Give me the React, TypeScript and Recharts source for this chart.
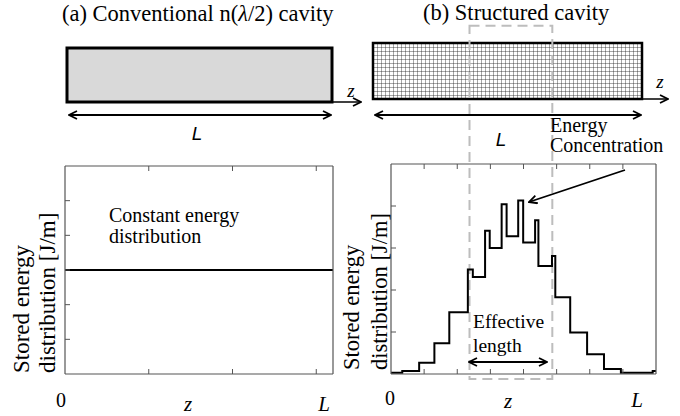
import React from 'react';
import { LineChart, Line, XAxis, YAxis, ReferenceArea } from 'recharts';

// ---- data ----
const uniformZ = [0, 3.2];
const uniformEnergy = [3, 3];
const uniformXTicks = [1, 2, 3];
const uniformYTicks = [1, 2, 3, 4, 5];

const structuredZ = [0, 0.34, 0.85, 1.31, 1.76, 2.32, 2.47, 2.84, 2.98, 3.34, 3.49, 3.84, 3.99, 4.35, 4.45, 4.86, 4.96, 5.41, 5.92, 6.43, 6.94, 7.9, 8];
const structuredEnergy = [0.03, 0.07, 0.27, 0.73, 1.47, 2.49, 2.31, 3.41, 3.0, 4.04, 3.28, 4.13, 3.13, 3.66, 2.57, 2.81, 1.83, 0.99, 0.47, 0.12, 0.03, 0.07, 0.07];
const structuredXTicks = [1, 2, 3, 4, 5, 6, 7];
const structuredYTicks = [1, 2, 3, 4];

const effectiveZ = [2.37, 4.87];
const effectiveBoxEnergy = [-0.12, 8.29];

const uniformData = uniformZ.map((z, i) => ({ z, e: uniformEnergy[i] }));
const structuredData = structuredZ.map((z, i) => ({ z, e: structuredEnergy[i] }));

const SERIF = "'Liberation Serif'";
const SANS = "'Liberation Sans'";
const FRAME = '#555';

const EmptyTick = () => <g />;

function axes(xDomain: number[], yDomain: number[], xTicks: number[], yTicks: number[]) {
  const common = {
    tick: EmptyTick,
    mirror: true,
    tickSize: 5,
    axisLine: { stroke: FRAME, strokeWidth: 1.2 },
    tickLine: { stroke: FRAME, strokeWidth: 1 },
  };
  return [
    <XAxis key="xb" xAxisId="b" dataKey="z" type="number" domain={xDomain} ticks={xTicks} height={1} {...common} />,
    <XAxis key="xt" xAxisId="t" orientation="top" dataKey="z" type="number" domain={xDomain} ticks={xTicks} height={1} {...common} />,
    <YAxis key="yl" yAxisId="l" type="number" domain={yDomain} ticks={yTicks} width={1} {...common} />,
    <YAxis key="yr" yAxisId="r" orientation="right" type="number" domain={yDomain} ticks={yTicks} width={1} {...common} />,
  ];
}

function Chev({ id }: { id: string }) {
  return (
    <marker id={id} viewBox="0 0 10 10" refX="9" refY="5" markerWidth="10" markerHeight="10" markerUnits="userSpaceOnUse" orient="auto-start-reverse">
      <path d="M1,1 L9,5 L1,9" fill="none" stroke="#000" strokeWidth="1.8" />
    </marker>
  );
}

const serif = { fontFamily: SERIF };
const sans = { fontFamily: SANS };

export default function App() {
  return (
    <div style={{ position: 'absolute', left: 0, top: 0, width: 680, height: 416, background: '#fff', overflow: 'hidden' }}>
      {/* schematic drawings */}
      <svg width={680} height={416} style={{ position: 'absolute', left: 0, top: 0 }}>
        <defs>
          <pattern id="grid" width="4" height="4" patternUnits="userSpaceOnUse" x="373" y="43">
            <rect width="4" height="4" fill="#fff" />
            <path d="M4,0 L0,0 L0,4" fill="none" stroke="#222" strokeWidth="0.8" />
          </pattern>
          <Chev id="chev" />
        </defs>
        <text x={62} y={21} style={serif} fontSize={22.5}>
          (a) Conventional n(<tspan fontStyle="italic">λ</tspan>/2) cavity
        </text>
        <text x={423} y={20} style={serif} fontSize={22.5}>
          (b) Structured cavity
        </text>
        <rect x={67} y={48} width={265} height={54} fill="#d9d9d9" stroke="#000" strokeWidth={3} />
        <rect x={373} y={43} width={269} height={56} fill="url(#grid)" stroke="#000" strokeWidth={2.5} />
        <line x1={69} y1={115} x2={331} y2={115} stroke="#000" strokeWidth={1.8} markerStart="url(#chev)" markerEnd="url(#chev)" />
        <line x1={375} y1={115} x2={641} y2={115} stroke="#000" strokeWidth={1.8} markerStart="url(#chev)" markerEnd="url(#chev)" />
        <line x1={333} y1={102} x2={361} y2={102} stroke="#000" strokeWidth={1.5} markerEnd="url(#chev)" />
        <line x1={642} y1={99} x2={668} y2={99} stroke="#000" strokeWidth={1.5} markerEnd="url(#chev)" />
        <text x={351} y={97} style={serif} fontStyle="italic" fontSize={19} textAnchor="middle">z</text>
        <text x={660} y={88} style={serif} fontStyle="italic" fontSize={19} textAnchor="middle">z</text>
        <text x={197} y={140} style={sans} fontStyle="italic" fontSize={19} textAnchor="middle">L</text>
        <text x={501} y={146} style={sans} fontStyle="italic" fontSize={19} textAnchor="middle">L</text>
      </svg>

      <LineChart width={340} height={416} data={uniformData} margin={{ top: 166, right: 7, bottom: 42, left: 65 }} style={{ position: 'absolute', left: 0, top: 0 }}>
        {axes([0, 3.2], [0, 6], uniformXTicks, uniformYTicks)}
        <Line xAxisId="b" yAxisId="l" dataKey="e" type="linear" stroke="#000" strokeWidth={2} dot={false} isAnimationActive={false} />
      </LineChart>

      <LineChart width={340} height={416} data={structuredData} margin={{ top: 164, right: 24, bottom: 42, left: 51 }} style={{ position: 'absolute', left: 340, top: 0 }}>
        {axes([0, 8], [0, 5], structuredXTicks, structuredYTicks)}
        <ReferenceArea xAxisId="b" yAxisId="l" x1={effectiveZ[0]} x2={effectiveZ[1]} y1={effectiveBoxEnergy[0]} y2={effectiveBoxEnergy[1]} ifOverflow="visible" fill="none" stroke="#bdbdbd" strokeWidth={2} strokeDasharray="10 6" />
        <Line xAxisId="b" yAxisId="l" dataKey="e" type="stepAfter" stroke="#000" strokeWidth={2} dot={false} isAnimationActive={false} />
      </LineChart>

      {/* annotations */}
      <svg width={680} height={416} style={{ position: 'absolute', left: 0, top: 0, pointerEvents: 'none' }}>
        <defs>
          <Chev id="chev2" />
        </defs>
        <g fill="#000">
          <text x={109} y={222} style={serif} fontSize={20}>Constant energy</text>
          <text x={109} y={243} style={serif} fontSize={20}>distribution</text>
          <text x={550} y={132} style={serif} fontSize={20}>Energy</text>
          <text x={550} y={152} style={serif} fontSize={20}>Concentration</text>
          <text x={473} y={328} style={serif} fontSize={19.5}>Effective</text>
          <text x={473} y={352} style={serif} fontSize={19.5}>length</text>

          <text transform="translate(29,373) rotate(-90)" style={serif} fontSize={23}>Stored energy</text>
          <text transform="translate(55,373) rotate(-90)" style={serif} fontSize={23}>distribution [J/m]</text>
          <text transform="translate(359,370) rotate(-90)" style={serif} fontSize={22.5}>Stored energy</text>
          <text transform="translate(387,370) rotate(-90)" style={serif} fontSize={22.5}>distribution [J/m]</text>

          <text x={61} y={407} style={serif} fontSize={20} textAnchor="middle">0</text>
          <text x={188} y={411} style={serif} fontSize={21} fontStyle="italic" textAnchor="middle">z</text>
          <text x={324} y={411} style={serif} fontSize={21} fontStyle="italic" textAnchor="middle">L</text>
          <text x={390} y={405} style={serif} fontSize={20} textAnchor="middle">0</text>
          <text x={508} y={408} style={serif} fontSize={21} fontStyle="italic" textAnchor="middle">z</text>
          <text x={637} y={407} style={serif} fontSize={21} fontStyle="italic" textAnchor="middle">L</text>
        </g>
        <line x1={625} y1={170} x2={529} y2={202} stroke="#000" strokeWidth={1.8} markerEnd="url(#chev2)" />
        <line x1={469} y1={362} x2={547} y2={362} stroke="#000" strokeWidth={1.8} markerStart="url(#chev2)" markerEnd="url(#chev2)" />
      </svg>
    </div>
  );
}
